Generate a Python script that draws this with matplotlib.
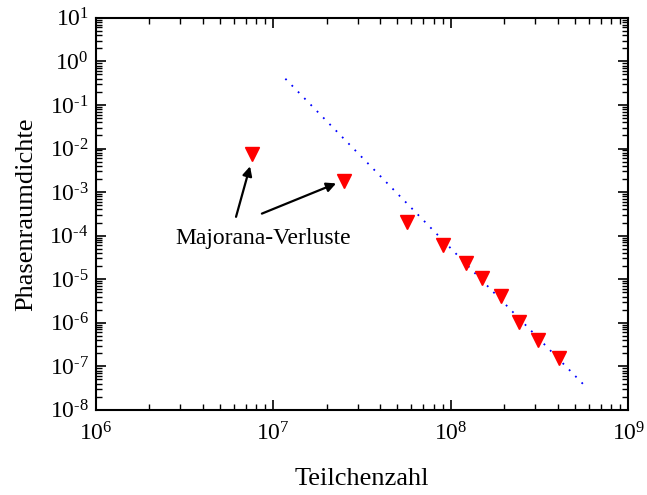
import matplotlib
matplotlib.use("Agg")
import matplotlib.pyplot as plt
from matplotlib.ticker import LogLocator, NullFormatter, FuncFormatter
import math

plt.rcParams['font.family'] = ['Liberation Serif', 'DejaVu Serif']
plt.rcParams['mathtext.fontset'] = 'custom'
plt.rcParams['mathtext.rm'] = 'Liberation Serif'
plt.rcParams['mathtext.it'] = 'Liberation Serif:italic'
plt.rcParams['axes.unicode_minus'] = False

# data
teilchenzahl = [7.6e6, 2.5e7, 5.7e7, 9.0e7, 1.22e8, 1.5e8, 1.92e8, 2.43e8, 3.12e8, 4.05e8]
phasenraumdichte = [7.3e-3, 1.75e-3, 2.1e-4, 6.2e-5, 2.4e-5, 1.05e-5, 4.2e-6, 1.05e-6, 4.1e-7, 1.55e-7]
fit_x = [1.17e7, 5.8e8]
fit_y = [0.4, 3.3e-8]
annot_text = "Majorana-Verluste"
arrow_heads = [(7.4e6, 3.9e-3), (2.26e7, 1.58e-3)]
arrow_tails = [(6.17e6, 2.7e-4), (8.63e6, 3.2e-4)]
text_pos = (8.75e6, 8.5e-5)

fig = plt.figure(figsize=(6.47, 4.95), dpi=100)
ax = fig.add_axes([0.148, 0.172, 0.823, 0.792])

ax.plot(fit_x, fit_y, color='blue', linestyle=(0, (1, 4)), linewidth=1.3)
ax.plot(teilchenzahl, phasenraumdichte, linestyle='none', marker='v',
        markersize=10.5, color='red', markeredgecolor='red')

for (hx, hy), (tx, ty) in zip(arrow_heads, arrow_tails):
    ax.annotate("", xy=(hx, hy), xytext=(tx, ty),
                arrowprops=dict(arrowstyle='-|>', color='black', lw=1.6,
                                mutation_scale=14, shrinkA=0, shrinkB=0))
ax.text(text_pos[0], text_pos[1], annot_text, fontsize=17, ha='center', va='center')

ax.set_xscale('log')
ax.set_yscale('log')
ax.set_xlim(1e6, 1e9)
ax.set_ylim(1e-8, 1e1)
ax.xaxis.set_major_locator(LogLocator(base=10, numticks=10))
ax.yaxis.set_major_locator(LogLocator(base=10, numticks=12))
ax.xaxis.set_minor_locator(LogLocator(base=10, subs=range(2, 10), numticks=20))
ax.yaxis.set_minor_locator(LogLocator(base=10, subs=range(2, 10), numticks=20))
ax.xaxis.set_minor_formatter(NullFormatter())
ax.yaxis.set_minor_formatter(NullFormatter())

def fmt(v, pos):
    e = int(round(math.log10(v)))
    return r"$10^{\text{%d}}$" % e

ax.xaxis.set_major_formatter(FuncFormatter(fmt))
ax.yaxis.set_major_formatter(FuncFormatter(fmt))

ax.tick_params(which='both', direction='in', top=True, right=True, labelsize=17)
ax.tick_params(which='major', length=7, width=1.2)
ax.tick_params(which='minor', length=4, width=1.0)
ax.tick_params(axis='x', which='major', pad=9)
ax.tick_params(axis='y', which='major', pad=5)
for s in ax.spines.values():
    s.set_linewidth(1.5)

ax.set_xlabel("Teilchenzahl", fontsize=19, labelpad=16)
ax.set_ylabel("Phasenraumdichte", fontsize=19, labelpad=9)

fig.savefig("out.png", dpi=100)
